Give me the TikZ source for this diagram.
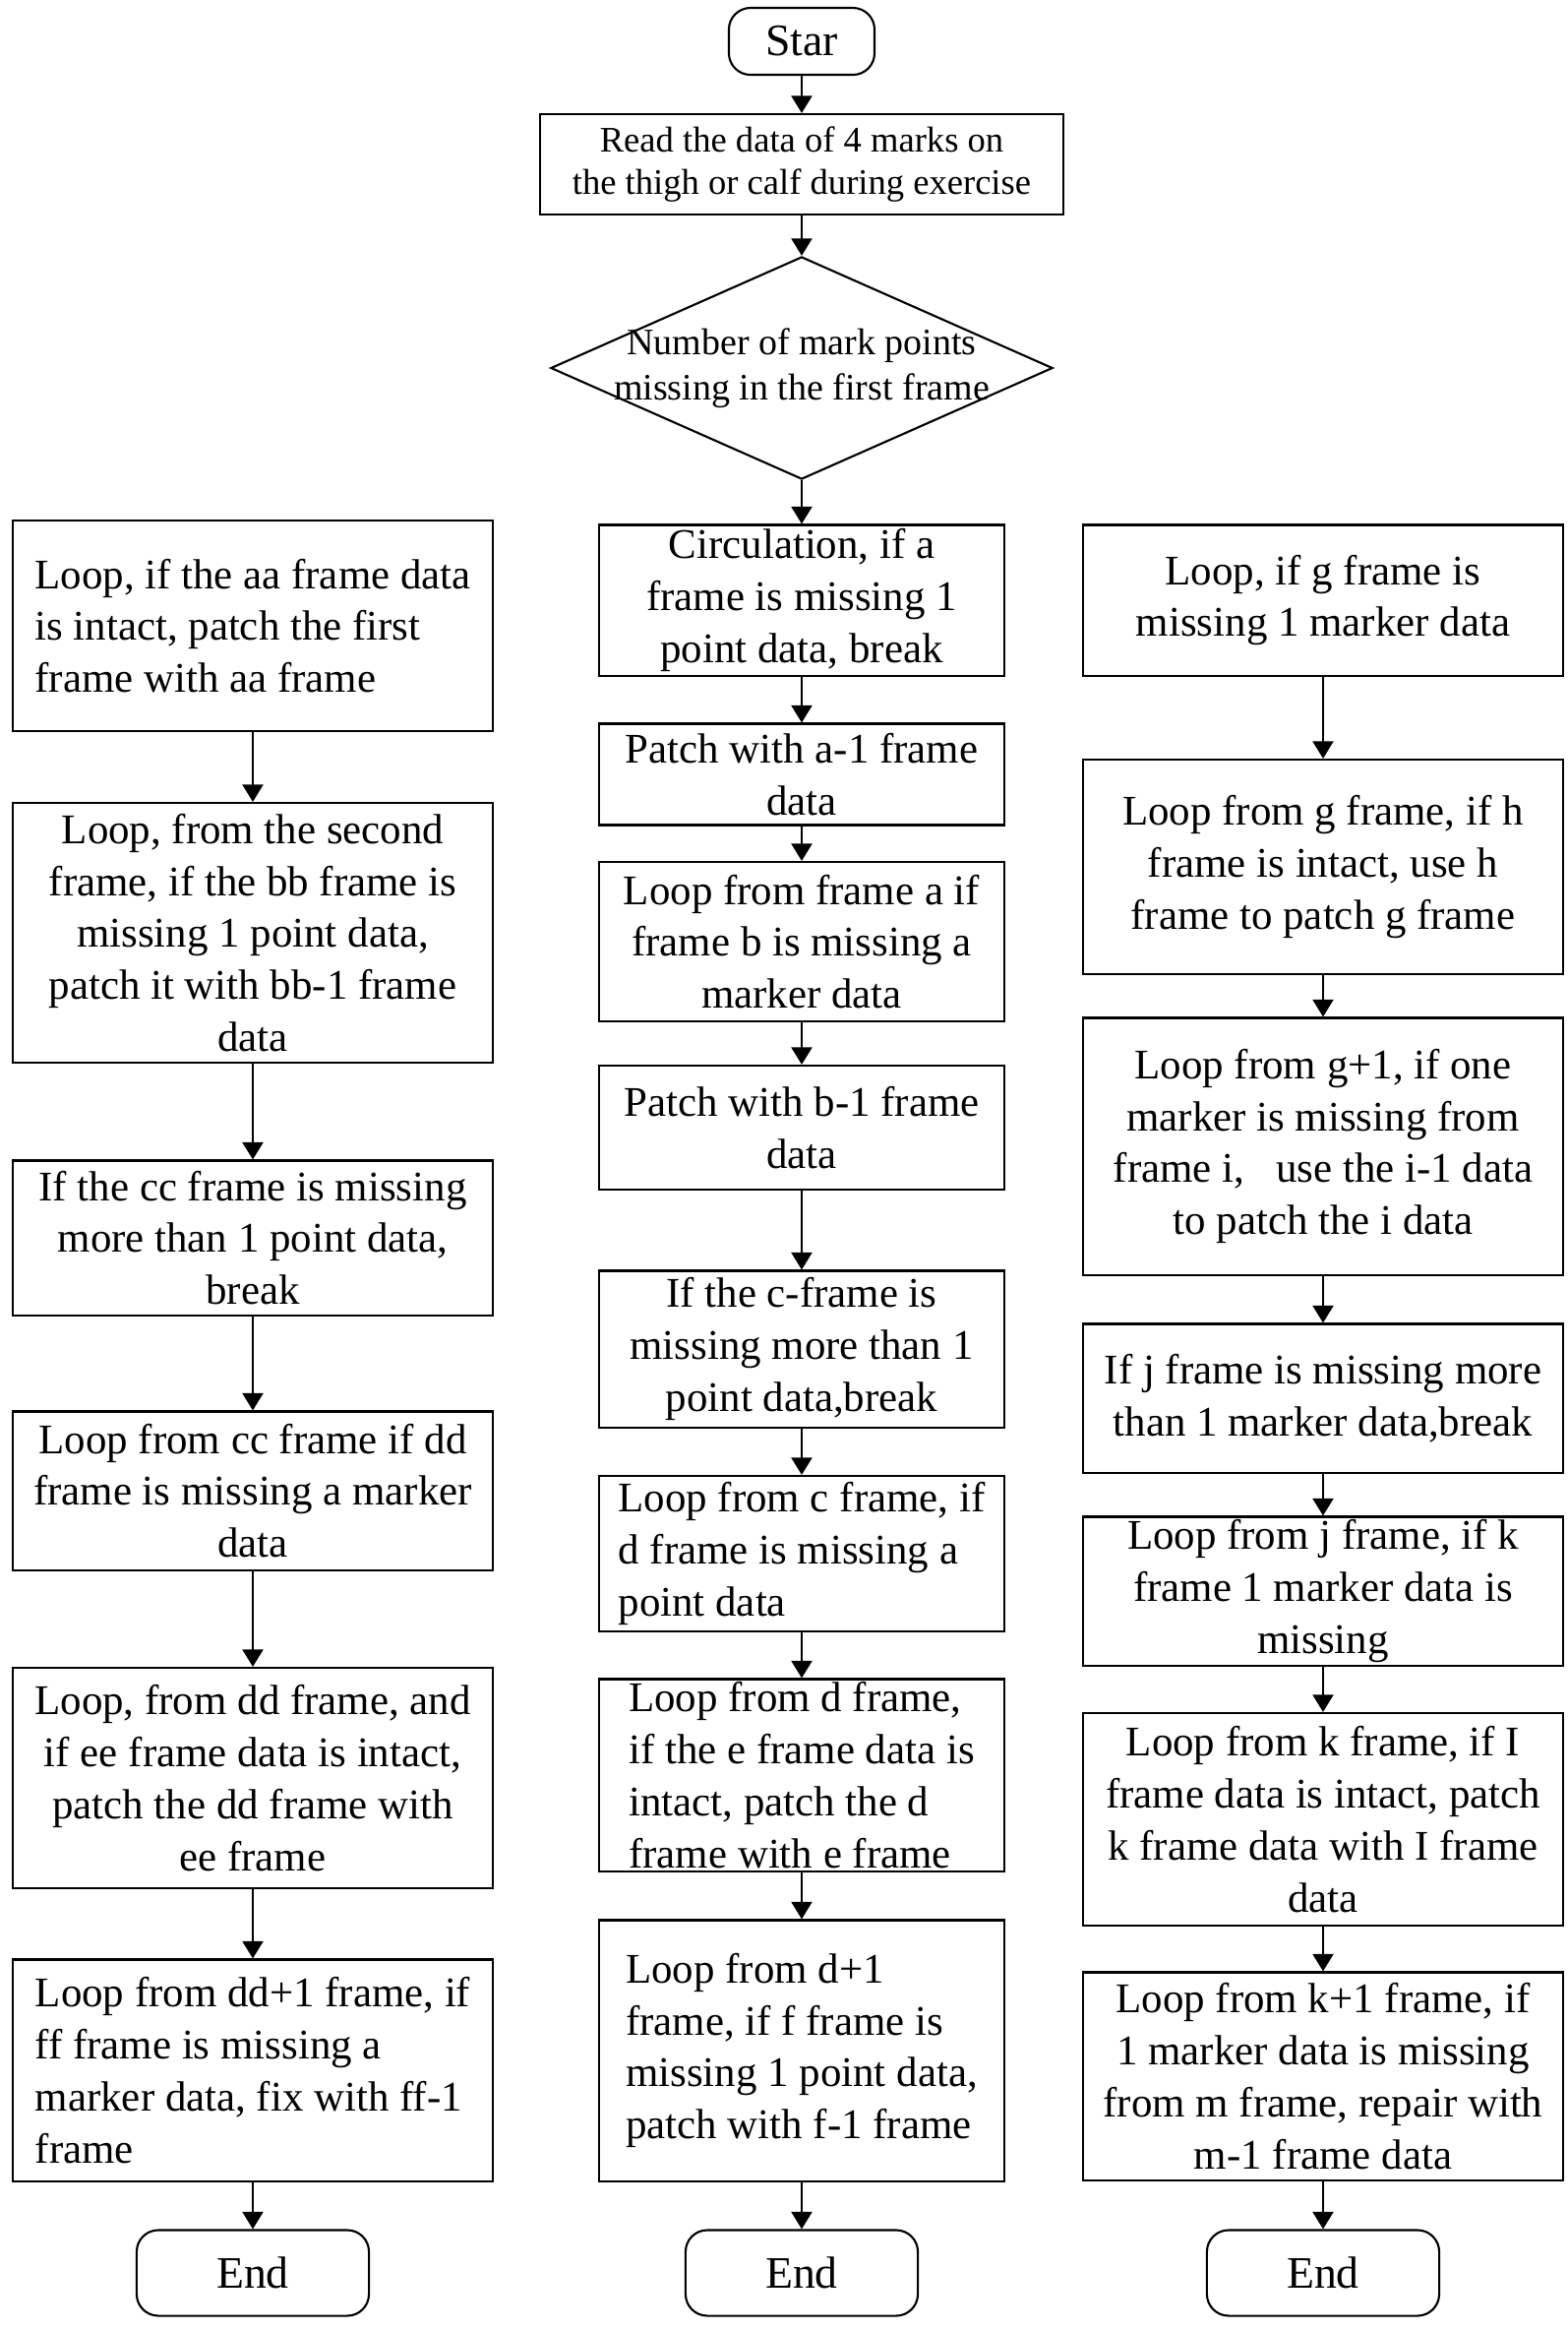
\documentclass[tikz,border=0pt]{standalone}
\usepackage{fontspec}
\setmainfont{Liberation Serif}
\usetikzlibrary{shapes,arrows.meta,positioning,calc}

\begin{document}
\begin{tikzpicture}[x=0.01cm, y=-0.01cm,
      box/.style={draw, line width=0.6pt, inner xsep=0.1cm, inner ysep=0pt, align=center, font=\fontsize{12.2}{15}\selectfont},
      lbox/.style={box, minimum width=4.88cm},
      mbox/.style={box, minimum width=4.12cm},
      rbox/.style={box, minimum width=4.87cm},
      term/.style={draw, line width=0.6pt, rounded corners=0.22cm, minimum width=2.36cm, minimum height=0.87cm, font=\fontsize{13}{15}\selectfont},
      dec/.style={draw, diamond, line width=0.6pt, minimum width=5.1cm, minimum height=2.26cm, inner sep=0pt},
      arr/.style={-{Triangle[width=6pt,length=5pt]}, line width=0.6pt}
    ]
    \useasboundingbox (0,0) rectangle (1594,2368);

    \node[term, minimum width=1.48cm, minimum height=0.68cm] (star) at (815,42) {Star};
    \node[box, minimum width=5.32cm, minimum height=1.02cm, font=\fontsize{10.4}{12}\selectfont] (read) at (815,167) {Read the data of 4 marks on\\the thigh or calf during exercise};
    \node[dec] (num) at (815,374) {};
    \node[font=\fontsize{10.8}{13}\selectfont, align=center, inner sep=0pt] (numtxt) at (num) {Number of mark points\\missing in the first frame};

    \node[mbox, minimum height=1.53cm] (m1) at (815,610) {Circulation, if a\\frame is missing 1\\point data, break};
    \node[mbox, minimum height=1.03cm] (m2) at (815,787) {Patch with a-1 frame\\data};
    \node[mbox, minimum height=1.62cm] (m3) at (815,957) {Loop from frame a if\\frame b is missing a\\marker data};
    \node[mbox, minimum height=1.26cm] (m4) at (815,1146) {Patch with b-1 frame\\data};
    \node[mbox, minimum height=1.59cm] (m5) at (815,1371) {If the c-frame is\\missing more than 1\\point data,break};
    \node[mbox, align=left, minimum height=1.58cm] (m6) at (815,1579) {Loop from c frame, if\\d frame is missing a\\point data};
    \node[mbox, align=left, minimum height=1.95cm] (m7) at (815,1804) {Loop from d frame,\\if the e frame data is\\intact, patch the d\\frame with e frame};
    \node[mbox, align=left, minimum height=2.65cm] (m8) at (815,2084) {Loop from d+1\\frame, if f frame is\\missing 1 point data,\\patch with f-1 frame};
    \node[term] (mend) at (815,2310) {End};

    \node[lbox, align=left, minimum height=2.14cm] (l1) at (257,636) {Loop, if the aa frame data\\is intact, patch the first\\frame with aa frame};
    \node[lbox, minimum height=2.64cm] (l2) at (257,948) {Loop, from the second\\frame, if the bb frame is\\missing 1 point data,\\patch it with bb-1 frame\\data};
    \node[lbox, minimum height=1.57cm] (l3) at (257,1258) {If the cc frame is missing\\more than 1 point data,\\break};
    \node[lbox, minimum height=1.61cm] (l4) at (257,1515) {Loop from cc frame if dd\\frame is missing a marker\\data};
    \node[lbox, minimum height=2.24cm] (l5) at (257,1807) {Loop, from dd frame, and\\if ee frame data is intact,\\patch the dd frame with\\ee frame};
    \node[lbox, align=left, minimum height=2.25cm] (l6) at (257,2104) {Loop from dd+1 frame, if\\ff frame is missing a\\marker data, fix with ff-1\\frame};
    \node[term] (lend) at (257,2310) {End};

    \node[rbox, minimum height=1.53cm] (r1) at (1345,610) {Loop, if g frame is\\missing 1 marker data};
    \node[rbox, minimum height=2.18cm] (r2) at (1345,881) {Loop from g frame, if h\\frame is intact, use h\\frame to patch g frame};
    \node[rbox, minimum height=2.61cm] (r3) at (1345,1165) {Loop from g+1, if one\\marker is missing from\\frame i,\ \ \ use the i-1 data\\to patch the i data};
    \node[rbox, minimum height=1.51cm] (r4) at (1345,1421) {If j frame is missing more\\than 1 marker data,break};
    \node[rbox, minimum height=1.51cm] (r5) at (1345,1617) {Loop from j frame, if k\\frame 1 marker data is\\missing};
    \node[rbox, minimum height=2.16cm] (r6) at (1345,1849) {Loop from k frame, if I\\frame data is intact, patch\\k frame data with I frame\\data};
    \node[rbox, minimum height=2.11cm] (r7) at (1345,2110) {Loop from k+1 frame, if\\1 marker data is missing\\from m frame, repair with\\m-1 frame data};
    \node[term] (rend) at (1345,2310) {End};

    \draw[arr] (star) -- (read);
    \draw[arr] (read) -- (num);
    \draw[arr] (num) -- (m1);
    \draw[arr] (m1) -- (m2);
    \draw[arr] (m2) -- (m3);
    \draw[arr] (m3) -- (m4);
    \draw[arr] (m4) -- (m5);
    \draw[arr] (m5) -- (m6);
    \draw[arr] (m6) -- (m7);
    \draw[arr] (m7) -- (m8);
    \draw[arr] (m8) -- (mend);

    \draw[arr] (l1) -- (l2);
    \draw[arr] (l2) -- (l3);
    \draw[arr] (l3) -- (l4);
    \draw[arr] (l4) -- (l5);
    \draw[arr] (l5) -- (l6);
    \draw[arr] (l6) -- (lend);

    \draw[arr] (r1) -- (r2);
    \draw[arr] (r2) -- (r3);
    \draw[arr] (r3) -- (r4);
    \draw[arr] (r4) -- (r5);
    \draw[arr] (r5) -- (r6);
    \draw[arr] (r6) -- (r7);
    \draw[arr] (r7) -- (rend);
  \end{tikzpicture}
\end{document}
